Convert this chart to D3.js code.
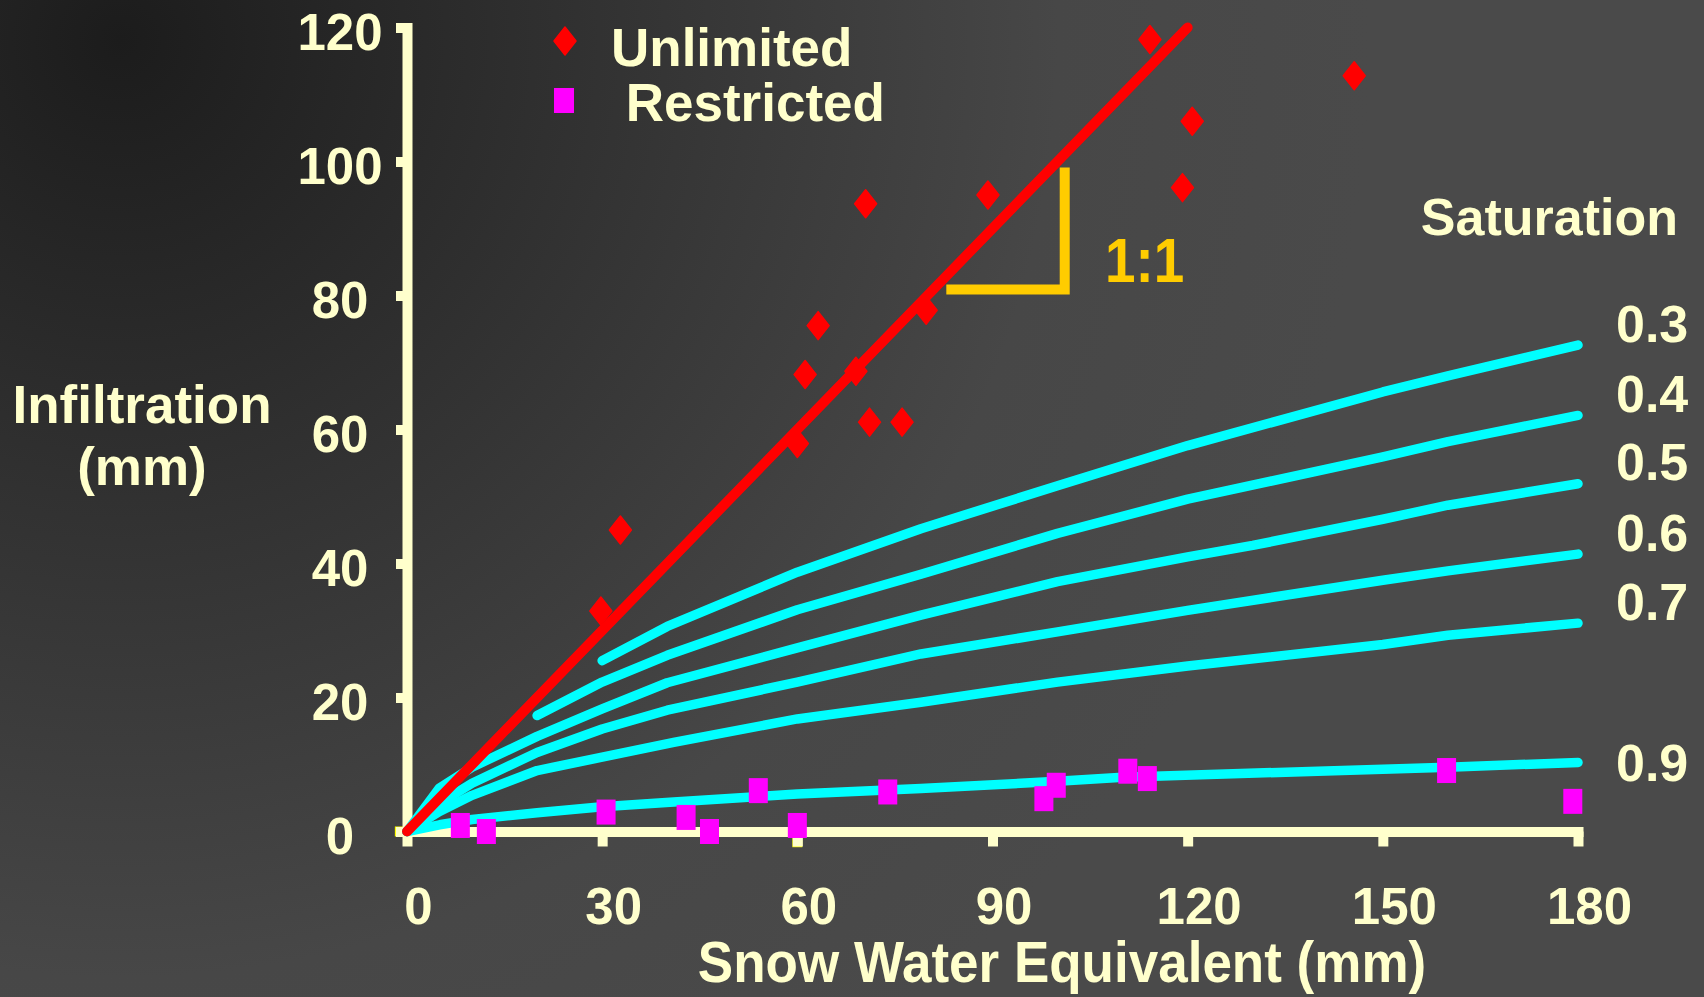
<!DOCTYPE html>
<html>
<head>
<meta charset="utf-8">
<script src="https://cdn.jsdelivr.net/npm/d3@7"></script>
<style>
  html, body { margin: 0; padding: 0; background: #3a3a3a; overflow: hidden; }
  svg { display: block; font-family: "Liberation Sans", Arial, sans-serif; font-weight: bold; }
</style>
</head>
<body>
<div id="chart"></div>
<script>
// 1: DATA
const xTicks = [0, 30, 60, 90, 120, 150, 180];
const yTicks = [0, 20, 40, 60, 80, 100, 120];

// Unlimited infiltration (red diamonds): [SWE mm, infiltration mm]
const unlimitedPts = [
    [29.8, 32.9], [32.8, 45.0], [60.0, 57.9], [61.2, 68.2], [63.2, 75.5],
    [69.0, 68.7], [70.5, 93.7], [71.1, 61.1], [76.1, 61.1], [79.8, 77.8],
    [89.3, 95.0], [114.2, 118.2], [119.2, 96.1], [120.7, 106.0], [145.6, 112.8]
];

// Restricted infiltration (magenta squares)
const restrictedPts = [
    [8.2, 0.9], [12.2, 0.0], [30.6, 2.9], [42.9, 2.1], [46.5, 0.0],
    [54.0, 6.1], [60.0, 0.9], [73.9, 5.9], [97.9, 4.9], [99.8, 6.9],
    [110.8, 9.0], [113.8, 7.9], [159.8, 9.1], [179.2, 4.5]
];

// stray yellow markers hidden behind the x axis
const strayPts = [[-1.1, 0.0], [60.0, -1.6]];

// 1:1 line and the slope bracket
const oneToOne = [[0, 0], [120, 120]];
const slopeBracket = [[82.9, 80.9], [101.1, 80.9], [101.1, 99.1]];

// Saturation curves
const saturationLabels = ["0.3", "0.4", "0.5", "0.6", "0.7", "0.9"];
const sat03 = [[30, 25.5], [40, 30.6], [60, 38.7], [79, 45.2], [100, 51.6], [120, 57.6], [150, 65.6], [160, 68.0], [180, 72.6]];
const sat04 = [[20, 17.3], [30, 22.3], [40, 26.3], [60, 33.1], [79, 38.4], [100, 44.5], [120, 49.6], [150, 55.9], [160, 58.2], [180, 62.1]];
const sat05 = [[0, 0], [5, 6.5], [10, 9.6], [20, 14.2], [30, 18.3], [40, 22.2], [60, 27.4], [79, 32.3], [100, 37.3], [120, 41.0], [130, 42.7], [150, 46.6], [160, 48.7], [180, 51.9]];
const sat06 = [[0, 0], [5, 4.2], [10, 7.2], [20, 11.8], [30, 15.3], [40, 18.1], [60, 22.3], [79, 26.5], [100, 29.8], [120, 33.0], [150, 37.5], [160, 38.9], [180, 41.4]];
const sat07 = [[0, 0], [5, 3.0], [10, 5.4], [20, 9.1], [30, 11.1], [41, 13.3], [60, 16.8], [79, 19.3], [100, 22.3], [120, 24.7], [150, 27.9], [160, 29.3], [180, 31.1]];
const sat09 = [[0, 0], [5, 1.0], [10, 1.8], [20, 2.8], [30, 3.7], [41, 4.4], [60, 5.6], [79, 6.4], [100, 7.5], [110, 8.1], [140, 9.0], [160, 9.6], [180, 10.3]];
const saturationSeries = [sat03, sat04, sat05, sat06, sat07, sat09];

const legendLabels = ["Unlimited", " Restricted"];

// 2: LAYOUT
const W = 1704, H = 997;
const cream = "#ffffcc";
const cyan = "#00ffff";
const red = "#ff0000";
const magenta = "#ff00ff";
const gold = "#ffcc00";

const svg = d3.select("#chart").append("svg")
    .attr("width", W)
    .attr("height", H);

// background: dark in the upper left, lighter grey elsewhere
const grad = svg.append("defs").append("radialGradient")
    .attr("id", "bg")
    .attr("gradientUnits", "userSpaceOnUse")
    .attr("cx", 120).attr("cy", 40).attr("r", 1250);
grad.append("stop").attr("offset", "0").attr("stop-color", "#1c1c1c");
grad.append("stop").attr("offset", "0.75").attr("stop-color", "#474747");
grad.append("stop").attr("offset", "1").attr("stop-color", "#4a4a4a");
svg.append("rect").attr("width", W).attr("height", H).attr("fill", "url(#bg)");

// 3: SCALES
const x = d3.scaleLinear().domain([0, 180]).range([407, 1578]);
const y = d3.scaleLinear().domain([0, 120]).range([831.5, 27.5]);
const line = d3.line().x(d => x(d[0])).y(d => y(d[1]));

// stray markers first, so the axis covers them
svg.append("g").selectAll("rect")
    .data(strayPts)
    .join("rect")
    .attr("x", d => x(d[0]) - 5)
    .attr("y", d => y(d[1]) - 5)
    .attr("width", 10)
    .attr("height", 10)
    .attr("fill", "#ffff00");

// 4: AXES
const xAxis = svg.append("g")
    .attr("transform", `translate(0,${y(0)})`)
    .call(d3.axisBottom(x).tickValues(xTicks).tickSizeInner(15).tickSizeOuter(0).tickPadding(0).tickFormat(d3.format("d")));
const yAxis = svg.append("g")
    .attr("transform", `translate(${x(0)},0)`)
    .call(d3.axisLeft(y).tickValues(yTicks).tickSizeInner(11).tickSizeOuter(0).tickPadding(0));

[xAxis, yAxis].forEach(ax => {
    ax.select(".domain")
        .attr("stroke", cream)
        .attr("stroke-width", 10)
        .attr("stroke-linecap", "square");
    ax.selectAll(".tick line")
        .attr("stroke", cream)
        .attr("stroke-width", 10);
    ax.selectAll(".tick text")
        .attr("fill", cream)
        .style("font-size", "51px")
        .style("font-family", "'Liberation Sans', Arial, sans-serif")
        .style("font-weight", "bold");
});
xAxis.selectAll(".tick text")
    .attr("dx", 11)
    .attr("y", 92)
    .attr("dy", 0);
yAxis.selectAll(".tick text")
    .attr("text-anchor", "middle")
    .attr("x", -67)
    .attr("dy", "0.43em");

// 5: SATURATION CURVES
svg.append("g").selectAll("path")
    .data(saturationSeries)
    .join("path")
    .attr("d", line)
    .attr("fill", "none")
    .attr("stroke", cyan)
    .attr("stroke-width", 9.5)
    .attr("stroke-linecap", "round")
    .attr("stroke-linejoin", "round");

svg.append("g").selectAll("text")
    .data(saturationSeries)
    .join("text")
    .text((d, i) => saturationLabels[i])
    .attr("x", 1616)
    .attr("y", (d, i) => y(d[d.length - 1][1]) + (i < 5 ? -22 : 0))
    .attr("dy", "0.36em")
    .attr("fill", cream)
    .style("font-size", "52px");

svg.append("text")
    .text("Saturation")
    .attr("x", 1678)
    .attr("y", 235)
    .attr("text-anchor", "end")
    .attr("fill", cream)
    .style("font-size", "52px");

// 6: 1:1 LINE + BRACKET
svg.append("path")
    .datum(oneToOne)
    .attr("d", line)
    .attr("fill", "none")
    .attr("stroke", red)
    .attr("stroke-width", 10)
    .attr("stroke-linecap", "round");

svg.append("path")
    .datum(slopeBracket)
    .attr("d", line)
    .attr("fill", "none")
    .attr("stroke", gold)
    .attr("stroke-width", 10)
    .attr("stroke-linejoin", "miter");

svg.append("text")
    .text("1:1")
    .attr("transform", "translate(1105,282) scale(0.87,1)")
    .attr("fill", gold)
    .style("font-size", "63px");

// 7: MARKERS
const diamond = "M0,-14L11,0L0,14L-11,0Z";
svg.append("g").selectAll("path")
    .data(unlimitedPts)
    .join("path")
    .attr("d", diamond)
    .attr("transform", d => `translate(${x(d[0])},${y(d[1])})`)
    .attr("fill", red)
    .attr("stroke", red)
    .attr("stroke-width", 1.5)
    .attr("stroke-linejoin", "round");

svg.append("g").selectAll("rect")
    .data(restrictedPts)
    .join("rect")
    .attr("x", d => x(d[0]) - 9.5)
    .attr("y", d => y(d[1]) - 12.5)
    .attr("width", 19)
    .attr("height", 25)
    .attr("fill", magenta);

// 8: LEGEND
const legend = svg.append("g");
legend.append("path")
    .attr("d", diamond)
    .attr("transform", "translate(565,41)")
    .attr("fill", red)
    .attr("stroke", red)
    .attr("stroke-width", 1.5)
    .attr("stroke-linejoin", "round");
legend.append("rect")
    .attr("x", 554).attr("y", 88)
    .attr("width", 20).attr("height", 25)
    .attr("fill", magenta);
legend.selectAll("text")
    .data(legendLabels)
    .join("text")
    .text(d => d)
    .attr("x", 611)
    .attr("y", (d, i) => 66 + i * 55)
    .attr("fill", cream)
    .style("font-size", "53px")
    .style("white-space", "pre")
    .attr("xml:space", "preserve");

// 9: AXIS TITLES
svg.append("text")
    .text("Snow Water Equivalent (mm)")
    .attr("transform", "translate(1062,982) scale(0.93,1)")
    .attr("text-anchor", "middle")
    .attr("fill", cream)
    .style("font-size", "57px");

const yTitle = svg.append("text")
    .attr("text-anchor", "middle")
    .attr("fill", cream)
    .style("font-size", "53px");
yTitle.append("tspan").attr("x", 142).attr("y", 423).text("Infiltration");
yTitle.append("tspan").attr("x", 142).attr("y", 485).text("(mm)");
</script>
</body>
</html>
